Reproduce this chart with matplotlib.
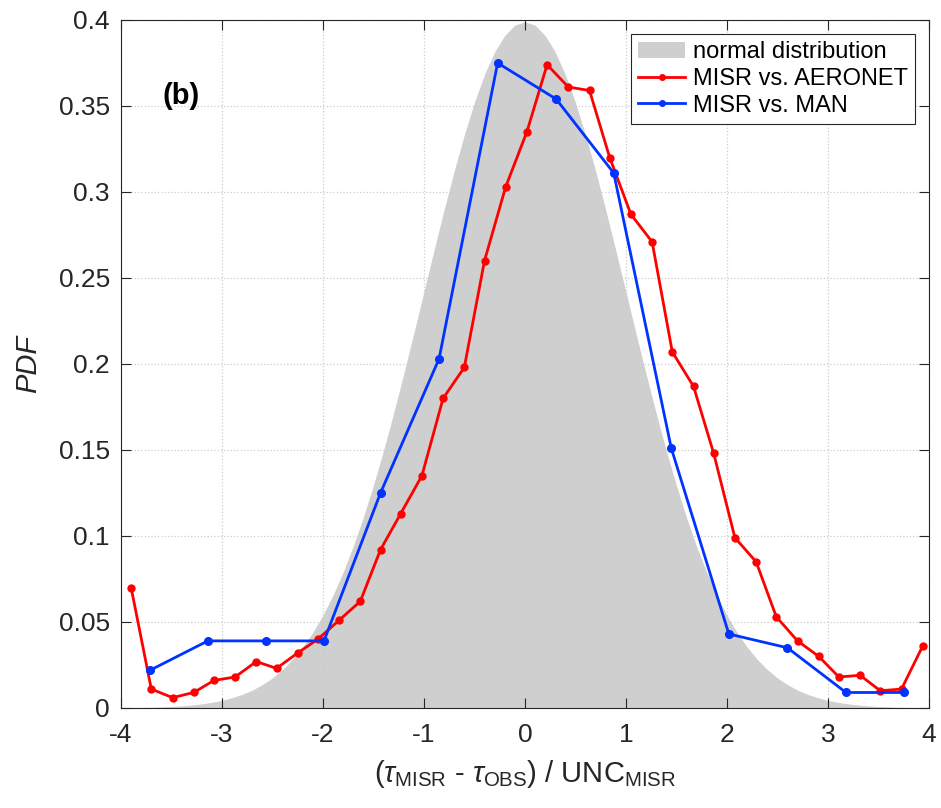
"""
PDF of normalised MISR AOD differences vs. AERONET and MAN, panel (b).
Output: out.png
"""

import matplotlib
matplotlib.use('Agg')
import matplotlib.pyplot as plt
from matplotlib.patches import Patch
from matplotlib.lines import Line2D

plt.rcParams['font.family'] = ['Liberation Sans', 'DejaVu Sans']
plt.rcParams['axes.unicode_minus'] = False
plt.rcParams['mathtext.fontset'] = 'custom'
plt.rcParams['mathtext.rm'] = 'Liberation Sans'
plt.rcParams['mathtext.it'] = 'Liberation Sans:italic'

# ── data ──────────────────────────────────────────────────────────────────────

# normal distribution, as read from the grey area
normal_x = [-4.0, -3.9, -3.8, -3.7, -3.6, -3.5, -3.4, -3.3, -3.2, -3.1,
            -3.0, -2.9, -2.8, -2.7, -2.6, -2.5, -2.4, -2.3, -2.2, -2.1,
            -2.0, -1.9, -1.8, -1.7, -1.6, -1.5, -1.4, -1.3, -1.2, -1.1,
            -1.0, -0.9, -0.8, -0.7, -0.6, -0.5, -0.4, -0.3, -0.2, -0.1,
            0.0,
            0.1, 0.2, 0.3, 0.4, 0.5, 0.6, 0.7, 0.8, 0.9, 1.0,
            1.1, 1.2, 1.3, 1.4, 1.5, 1.6, 1.7, 1.8, 1.9, 2.0,
            2.1, 2.2, 2.3, 2.4, 2.5, 2.6, 2.7, 2.8, 2.9, 3.0,
            3.1, 3.2, 3.3, 3.4, 3.5, 3.6, 3.7, 3.8, 3.9, 4.0]
normal_pdf = [0.0001, 0.0002, 0.0003, 0.0004, 0.0006, 0.0009, 0.0012, 0.0017, 0.0024, 0.0033,
              0.0044, 0.0060, 0.0079, 0.0104, 0.0136, 0.0175, 0.0224, 0.0283, 0.0355, 0.0440,
              0.0540, 0.0656, 0.0790, 0.0940, 0.1109, 0.1295, 0.1497, 0.1714, 0.1942, 0.2179,
              0.2420, 0.2661, 0.2897, 0.3123, 0.3332, 0.3521, 0.3683, 0.3814, 0.3910, 0.3970,
              0.3989,
              0.3970, 0.3910, 0.3814, 0.3683, 0.3521, 0.3332, 0.3123, 0.2897, 0.2661, 0.2420,
              0.2179, 0.1942, 0.1714, 0.1497, 0.1295, 0.1109, 0.0940, 0.0790, 0.0656, 0.0540,
              0.0440, 0.0355, 0.0283, 0.0224, 0.0175, 0.0136, 0.0104, 0.0079, 0.0060, 0.0044,
              0.0033, 0.0024, 0.0017, 0.0012, 0.0009, 0.0006, 0.0004, 0.0003, 0.0002, 0.0001]

aeronet_x = [-3.90, -3.70, -3.49, -3.28, -3.08, -2.87, -2.66, -2.46, -2.25,
             -2.05, -1.84, -1.63, -1.43, -1.23, -1.02, -0.81, -0.60, -0.40,
             -0.19, 0.02, 0.22, 0.43, 0.64, 0.84, 1.05, 1.26, 1.46, 1.67,
             1.87, 2.08, 2.29, 2.49, 2.70, 2.91, 3.11, 3.32, 3.52, 3.73, 3.94]
aeronet_pdf = [0.070, 0.011, 0.006, 0.009, 0.016, 0.018, 0.027, 0.023, 0.032,
               0.040, 0.051, 0.062, 0.092, 0.113, 0.135, 0.180, 0.198, 0.260,
               0.303, 0.335, 0.374, 0.361, 0.359, 0.320, 0.287, 0.271, 0.207,
               0.187, 0.148, 0.099, 0.085, 0.053, 0.039, 0.030, 0.018, 0.019,
               0.010, 0.011, 0.036]

man_x = [-3.71, -3.14, -2.56, -1.99, -1.43, -0.85, -0.27, 0.31, 0.88, 1.45,
         2.02, 2.60, 3.18, 3.75]
man_pdf = [0.022, 0.039, 0.039, 0.039, 0.125, 0.203, 0.375, 0.354, 0.311,
           0.151, 0.043, 0.035, 0.009, 0.009]

yticks = [0, 0.05, 0.1, 0.15, 0.2, 0.25, 0.3, 0.35, 0.4]
ytick_labels = ['0', '0.05', '0.1', '0.15', '0.2', '0.25', '0.3', '0.35', '0.4']
xticks = [-4, -3, -2, -1, 0, 1, 2, 3, 4]

# ── plot ──────────────────────────────────────────────────────────────────────

GREY, RED, BLUE = '#cfcfcf', '#ff0000', '#0033ff'
AXC = '#262626'

fig = plt.figure(figsize=(9.41, 8.08), dpi=100)
ax = fig.add_axes([0.1286, 0.1238, 0.8584, 0.8515])

ax.fill_between(normal_x, normal_pdf, 0, color=GREY, lw=0, zorder=1)
ax.plot(aeronet_x, aeronet_pdf, color=RED, lw=2, marker='o', ms=5, zorder=3)
ax.plot(man_x, man_pdf, color=BLUE, lw=2, marker='o', ms=5.5, zorder=3)

ax.set_xlim(-4, 4); ax.set_ylim(0, 0.4)
ax.set_xticks(xticks)
ax.set_yticks(yticks); ax.set_yticklabels(ytick_labels)
ax.set_axisbelow('line')
ax.grid(True, color='#cccccc', ls=':', lw=0.9)
ax.tick_params(direction='in', top=True, right=True, length=7, width=0.8,
               colors=AXC, labelsize=19)
ax.tick_params(axis='x', pad=11)
ax.tick_params(axis='y', pad=8)
for s in ax.spines.values():
    s.set_color(AXC); s.set_linewidth(0.8)

ax.set_ylabel('PDF', fontsize=21, style='italic', color=AXC, labelpad=12)
ax.set_xlabel(r'($\tau_{\mathrm{MISR}}$ - $\tau_{\mathrm{OBS}}$) / UNC$_{\mathrm{MISR}}$',
              fontsize=21, color=AXC, labelpad=8)

ax.text(-3.59, 0.356, '(b)', fontsize=21, fontweight='bold', color='black',
        va='center', ha='left')

handles = [Patch(facecolor=GREY, edgecolor='none'),
           Line2D([], [], color=RED, lw=2, marker='o', ms=4),
           Line2D([], [], color=BLUE, lw=2, marker='o', ms=4)]
labels = ['normal distribution', 'MISR vs. AERONET', 'MISR vs. MAN']
leg = ax.legend(handles, labels, loc='upper right', fontsize=17,
                fancybox=False, framealpha=1, edgecolor=AXC,
                handlelength=2.0, handletextpad=0.3, labelspacing=0.2,
                borderpad=0.3, borderaxespad=0.6)
leg.get_frame().set_linewidth(0.8)

fig.savefig('out.png', dpi=100)
plt.close(fig)
